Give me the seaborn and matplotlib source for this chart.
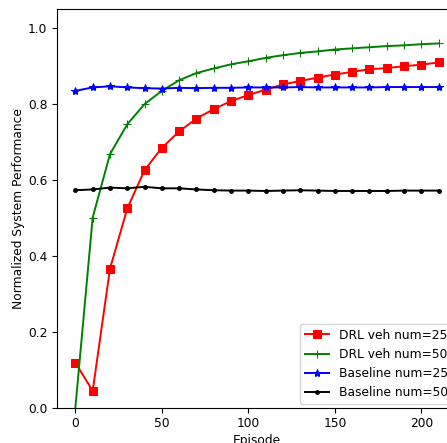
import numpy as np
import pandas as pd
import matplotlib
matplotlib.use("Agg")
import matplotlib.pyplot as plt
import seaborn as sns

# ==============================
# Data
# ==============================
episodes = list(range(0, 220, 10))

drl_25 = [0.118, 0.044, 0.366, 0.525, 0.626, 0.685, 0.728, 0.762, 0.787, 0.808, 0.824,
          0.838, 0.852, 0.861, 0.870, 0.878, 0.885, 0.892, 0.895, 0.900, 0.904, 0.910]
drl_50 = [0.0, 0.501, 0.668, 0.747, 0.800, 0.835, 0.863, 0.882, 0.894, 0.905, 0.913,
          0.922, 0.929, 0.935, 0.939, 0.944, 0.947, 0.950, 0.953, 0.955, 0.958, 0.960]
base_25 = [0.835, 0.844, 0.847, 0.844, 0.842, 0.841, 0.843, 0.842, 0.843, 0.843, 0.844,
           0.844, 0.844, 0.845, 0.844, 0.844, 0.844, 0.844, 0.845, 0.845, 0.845, 0.845]
base_50 = [0.573, 0.575, 0.580, 0.578, 0.582, 0.578, 0.578, 0.575, 0.573, 0.572, 0.572,
           0.571, 0.572, 0.573, 0.572, 0.571, 0.571, 0.571, 0.571, 0.572, 0.572, 0.572]

series = [
    ("DRL veh num=25", drl_25, "red", "s", 6),
    ("DRL veh num=50", drl_50, "green", "+", 6),
    ("Baseline num=25", base_25, "blue", "*", 6),
    ("Baseline num=50", base_50, "black", ".", 5.5),
]

plt.rcParams["font.size"] = 8.8

# ==============================
# Plot
# ==============================
fig = plt.figure(figsize=(4.47, 4.43), dpi=100)
# axes run past the right edge, as in the cropped reference
ax = fig.add_axes([0.128, 0.080, 0.894, 0.899])

for label, vals, color, marker, ms in series:
    df = pd.DataFrame({"Episode": episodes, "value": vals})
    sns.lineplot(data=df, x="Episode", y="value", ax=ax, color=color,
                 marker=marker, markersize=ms, markeredgecolor=color,
                 linewidth=1.4, label=label)

ax.set_xlim(-10.5, 220.5)
ax.set_ylim(0, 1.05)
ax.set_xticks([0, 50, 100, 150, 200])
ax.set_yticks([0.0, 0.2, 0.4, 0.6, 0.8, 1.0])
ax.tick_params(labelsize=8.8, length=3.5, width=0.8)
ax.set_xlabel("Episode", fontsize=8.8, labelpad=3)
ax.set_ylabel("Normalized System Performance", fontsize=8.8, labelpad=2)
ax.legend(loc="lower right", fontsize=8.8, borderaxespad=0.3)

plt.savefig("out.png", dpi=100)
plt.close()
